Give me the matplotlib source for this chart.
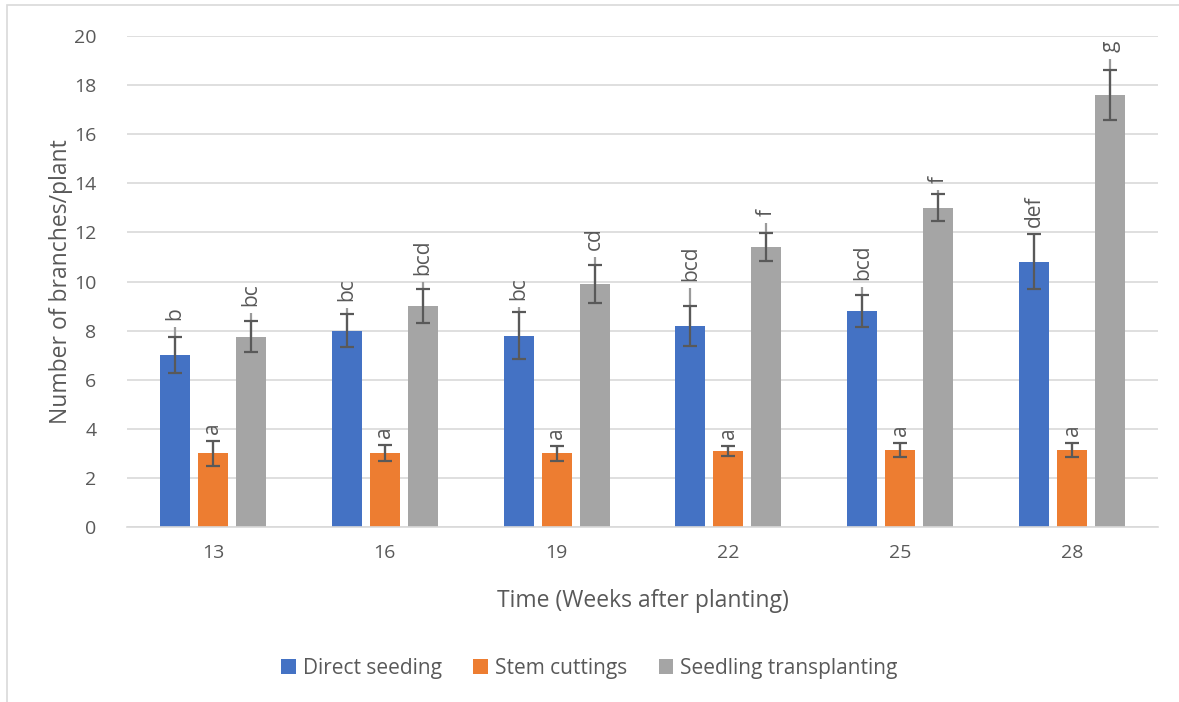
import matplotlib
matplotlib.use("Agg")
import matplotlib.pyplot as plt
import numpy as np
from matplotlib.patches import Rectangle

plt.rcParams['font.family'] = ['Open Sans', 'DejaVu Sans']

weeks = ["13", "16", "19", "22", "25", "28"]
series = ["Direct seeding", "Stem cuttings", "Seedling transplanting"]

direct = [7.0, 8.0, 7.8, 8.2, 8.8, 10.8]
direct_err = [0.73, 0.68, 0.95, 0.81, 0.64, 1.12]
direct_hi = [8.16, 8.93, 8.95, 9.75, 9.79, 11.93]
direct_lbl = ["b", "bc", "bc", "bcd", "bcd", "def"]

stem = [3.0, 3.0, 3.0, 3.1, 3.15, 3.15]
stem_err = [0.5, 0.33, 0.3, 0.2, 0.29, 0.28]
stem_hi = [3.5, 3.33, 3.3, 3.3, 3.44, 3.43]
stem_lbl = ["a", "a", "a", "a", "a", "a"]

seedling = [7.75, 9.0, 9.9, 11.4, 13.0, 17.6]
seedling_err = [0.64, 0.68, 0.79, 0.58, 0.55, 1.03]
seedling_hi = [8.70, 9.98, 10.99, 12.37, 13.73, 19.05]
seedling_lbl = ["bc", "bcd", "cd", "f", "f", "g"]

colors = ["#4472C4", "#ED7D31", "#A5A5A5"]
txt = "#595959"

fig = plt.figure(figsize=(11.79, 7.02), dpi=100)
ax = fig.add_axes([0.1077, 0.2493, 0.8745, 0.6994])

x = np.arange(len(weeks))
w = 0.174
step = 0.221
data = [(direct, direct_err, direct_hi, direct_lbl),
        (stem, stem_err, stem_hi, stem_lbl),
        (seedling, seedling_err, seedling_hi, seedling_lbl)]

for i, (vals, errs, his, lbls) in enumerate(data):
    xs = x + (i - 1) * step
    ax.bar(xs, vals, width=w, color=colors[i], label=series[i], zorder=2)
    v = np.array(vals)
    # light upper extension
    ax.vlines(xs, v, his, color="#9a9a9a", lw=1.6, zorder=3)
    ax.errorbar(xs, vals, yerr=errs, fmt='none', ecolor="#595959",
                elinewidth=1.6, capsize=5, capthick=1.6, zorder=4)
    for xi, vi, ei, hi, lb in zip(xs, vals, errs, his, lbls):
        top = max(vi + ei, hi)
        ax.annotate(lb, (xi, top), xytext=(0, 5), textcoords="offset points",
                    rotation=90, ha="center", va="bottom", fontsize=15, color=txt)

ax.set_ylim(0, 20)
ax.set_xlim(-0.5, len(weeks) - 0.5)
ax.set_yticks(np.arange(0, 21, 2))
ax.set_xticks(x)
ax.set_xticklabels(weeks)
ax.yaxis.grid(True, color="#d9d9d9", lw=1.2, zorder=0)
ax.set_axisbelow(True)
for s in ["top", "right", "left"]:
    ax.spines[s].set_visible(False)
ax.spines["bottom"].set_color("#d9d9d9")
ax.spines["bottom"].set_linewidth(1.2)
ax.tick_params(axis="both", length=0, labelsize=14, colors=txt, pad=12)
ax.tick_params(axis="y", pad=22)
ax.set_xlabel("Time (Weeks after planting)", fontsize=16.5, color=txt, labelpad=20)
ax.set_ylabel("Number of branches/plant", fontsize=16.5, color=txt, labelpad=1)

leg = fig.legend(loc="center", bbox_to_anchor=(0.5, 0.048), ncol=3, frameon=False,
                 fontsize=15, handlelength=0.7, handleheight=0.7, columnspacing=1.5,
                 handletextpad=0.35)
for t in leg.get_texts():
    t.set_color(txt)

fig.patches.append(Rectangle((0.006, -0.01), 1.1, 1.003, transform=fig.transFigure,
                             fill=False, edgecolor="#d9d9d9", lw=1.2))

fig.savefig("out.png", dpi=100)
